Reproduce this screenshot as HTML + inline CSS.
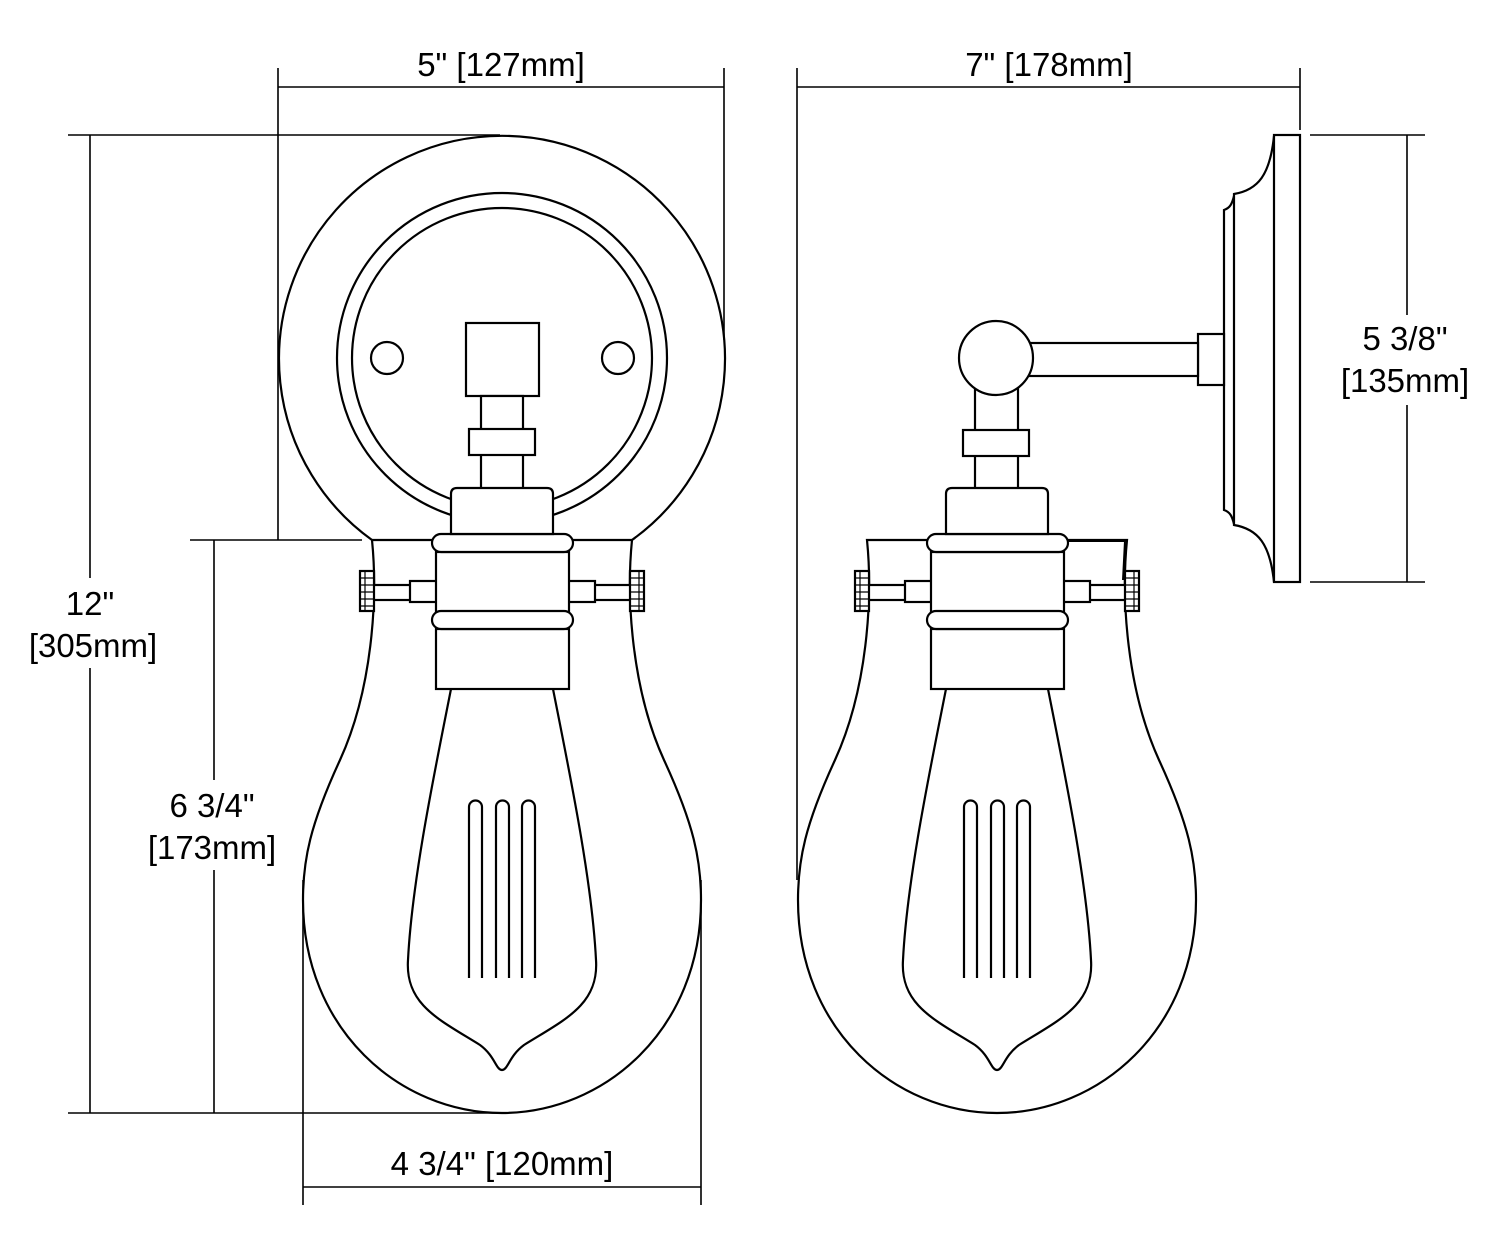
<!DOCTYPE html>
<html><head><meta charset="utf-8"><style>
html,body{margin:0;padding:0;background:#fff;}
svg{display:block;}
text{font-family:"Liberation Sans",sans-serif;font-size:33px;fill:#000;}
</style></head><body>
<svg width="1500" height="1257" viewBox="0 0 1500 1257" xmlns="http://www.w3.org/2000/svg">
<defs>
<g id="lamp" fill="#fff" stroke="#000" stroke-width="2.2">
  <path d="M372,540 C378,600 372,690 340,760 C310,825 303,860 303,900 C303,1030 400,1113 502,1113 C604,1113 701,1030 701,900 C701,860 694,825 664,760 C632,690 626,600 632,540 Z"/>
  <path d="M451,689 C435,770 412,880 408,960 C405,1005 440,1020 480,1045 C495,1056 496,1070 502,1070 C508,1070 509,1056 524,1045 C564,1020 599,1005 596,960 C592,880 569,770 553,689" fill="none"/>
  <path d="M469,978 V807 a6.5,6.5 0 0 1 13,0 V978 M496,978 V807 a6.5,6.5 0 0 1 13,0 V978 M522,978 V807 a6.5,6.5 0 0 1 13,0 V978" fill="none"/>
  <rect x="373" y="585" width="38" height="15"/>
  <rect x="410" y="581" width="27" height="21"/>
  <rect x="360" y="571" width="14" height="40"/>
  <path d="M360,578 H374 M360,585 H374 M360,592 H374 M360,599 H374 M360,606 H374 M365,571 V611" fill="none" stroke-width="1.2"/>
  <rect x="593" y="585" width="38" height="15"/>
  <rect x="568" y="581" width="27" height="21"/>
  <rect x="630" y="571" width="14" height="40"/>
  <path d="M630,578 H644 M630,585 H644 M630,592 H644 M630,599 H644 M630,606 H644 M639,571 V611" fill="none" stroke-width="1.2"/>
  <rect x="436" y="629" width="133" height="60"/>
  <rect x="436" y="552" width="133" height="60"/>
  <rect x="432" y="611" width="141" height="18" rx="9"/>
  <rect x="432" y="534" width="141" height="18" rx="9"/>
  <path d="M451,534 V494 q0,-6 6,-6 H547 q6,0 6,6 V534 Z"/>
</g>
</defs>
<g fill="none" stroke="#000" stroke-width="2.2">
  <path d="M372,540 A223,223 0 1 1 632,540" />
  <circle cx="502" cy="358" r="165"/>
  <circle cx="502" cy="358" r="150"/>
  <circle cx="387" cy="358" r="16"/>
  <circle cx="618" cy="358" r="16"/>
  <rect x="466" y="323" width="73" height="73" fill="#fff"/>
  <rect x="481" y="396" width="42" height="95" fill="#fff"/>
  <rect x="469" y="429" width="66" height="26" fill="#fff"/>
</g>
<use href="#lamp"/>
<g fill="#fff" stroke="#000" stroke-width="2.2">
  <rect x="1274" y="135" width="26" height="447"/>
  <path d="M1274,136 C1270,175 1258,190 1234,194 L1234,525 C1258,529 1270,544 1274,582" fill="none"/>
  <path d="M1234,196 C1232,204 1230,208 1224,210 L1224,510 C1230,512 1232,516 1234,524" fill="none"/>
  <rect x="1198" y="334" width="26" height="51"/>
  <rect x="1020" y="343" width="178" height="33"/>
  <rect x="975" y="385" width="43" height="106"/>
  <rect x="963" y="430" width="66" height="26"/>
  <circle cx="996" cy="358" r="37"/>
</g>
<use href="#lamp" transform="translate(495,0)"/>
<path d="M1067,541 H1125 L1123,580" fill="none" stroke="#000" stroke-width="2"/>
<g stroke="#000" stroke-width="1.6" fill="none">
  <path d="M278,68 V540 M724,68 V340 M278,87 H724"/>
  <path d="M68,135 H500 M68,1113 H500 M90,135 V1113"/>
  <path d="M190,540 H362 M214,540 V1113"/>
  <path d="M303,880 V1205 M701,880 V1205 M303,1187 H701"/>
  <path d="M797,68 V880 M1300,68 V130 M797,87 H1300"/>
  <path d="M1310,135 H1425 M1310,582 H1425 M1407,135 V582"/>
</g>
<g fill="#fff">
  <rect x="55" y="578" width="80" height="90"/>
  <rect x="145" y="780" width="135" height="90"/>
  <rect x="1338" y="315" width="135" height="90"/>
</g>
<text x="501" y="76" text-anchor="middle">5" [127mm]</text>
<text x="1049" y="76" text-anchor="middle">7" [178mm]</text>
<text x="90" y="615" text-anchor="middle">12"</text>
<text x="93" y="657" text-anchor="middle">[305mm]</text>
<text x="212" y="817" text-anchor="middle">6 3/4"</text>
<text x="212" y="859" text-anchor="middle">[173mm]</text>
<text x="502" y="1175" text-anchor="middle">4 3/4" [120mm]</text>
<text x="1405" y="350" text-anchor="middle">5 3/8"</text>
<text x="1405" y="392" text-anchor="middle">[135mm]</text>
</svg>
</body></html>
